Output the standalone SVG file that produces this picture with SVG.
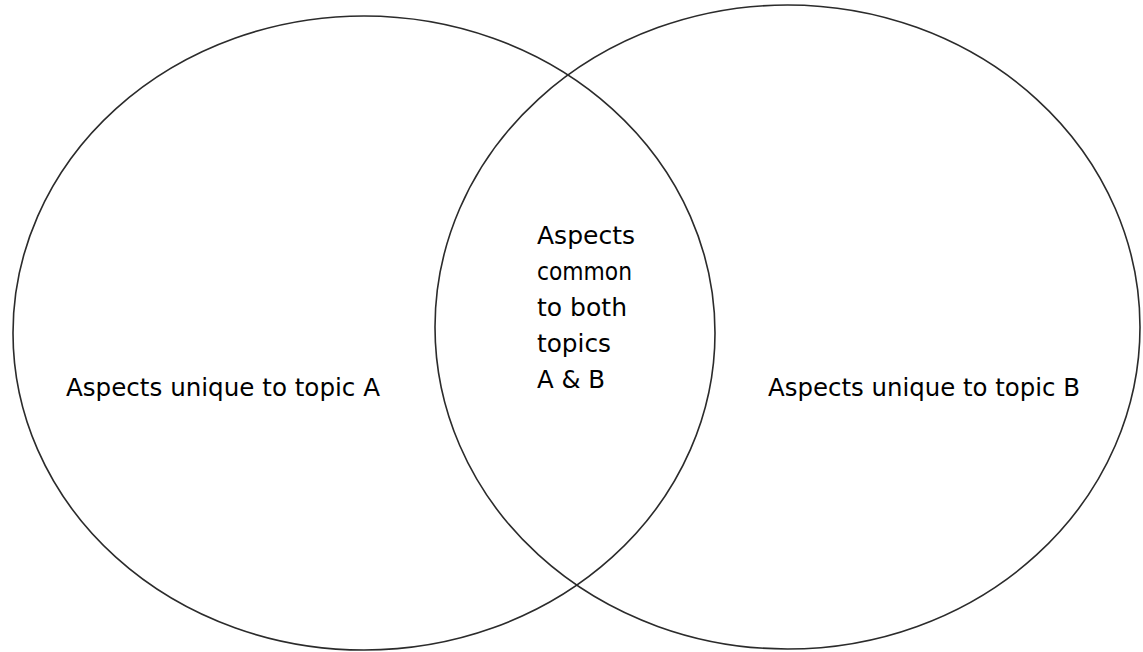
<svg xmlns="http://www.w3.org/2000/svg" width="1143" height="652" viewBox="0 0 1143 652">
  <style>
    .ring { fill: none; stroke: #2b2b2b; stroke-width: 1.6; }
    .lbl { font-family: "DejaVu Sans", "Liberation Sans", sans-serif; font-size: 24px; fill: #000; }
  </style>
  <rect width="1143" height="652" fill="#ffffff"/>
  <g id="circle-a">
    <ellipse class="ring" cx="364" cy="333" rx="351" ry="317"/>
    <text class="lbl" x="66" y="396" textLength="314" lengthAdjust="spacingAndGlyphs">Aspects unique to topic A</text>
  </g>
  <g id="circle-b">
    <ellipse class="ring" cx="787.5" cy="327" rx="352.5" ry="322"/>
    <text class="lbl" x="768" y="396" textLength="312" lengthAdjust="spacingAndGlyphs">Aspects unique to topic B</text>
  </g>
  <g id="overlap">
    <text class="lbl" x="537" y="244" textLength="98" lengthAdjust="spacingAndGlyphs">Aspects</text>
    <text class="lbl" x="537" y="280" textLength="95" lengthAdjust="spacingAndGlyphs">common</text>
    <text class="lbl" x="537" y="316" textLength="90" lengthAdjust="spacingAndGlyphs">to both</text>
    <text class="lbl" x="537" y="352" textLength="74" lengthAdjust="spacingAndGlyphs">topics</text>
    <text class="lbl" x="537" y="388" textLength="68" lengthAdjust="spacingAndGlyphs">A &amp; B</text>
  </g>
  <g id="connectors"></g>
</svg>
